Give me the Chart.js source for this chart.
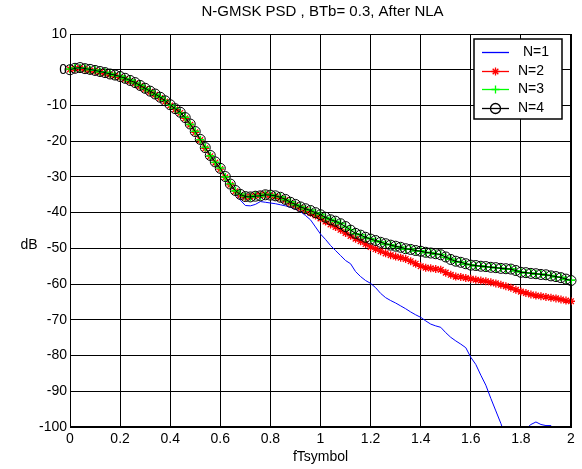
<!DOCTYPE html>
<html>
<head>
<meta charset="utf-8">
<script src="https://cdn.jsdelivr.net/npm/chart.js@4/dist/chart.umd.min.js"></script>
<style>
  html, body { margin: 0; padding: 0; background: #fff; }
  #wrap { width: 582px; height: 469px; }
</style>
</head>
<body>
<div id="wrap"><canvas id="psdChart" width="582" height="469"></canvas></div>
<script>
// normalised frequency f*Tsymbol
const freq = [
  0.00, 0.02, 0.04, 0.06, 0.08, 0.10, 0.12, 0.14, 0.16, 0.18,
  0.20, 0.22, 0.24, 0.26, 0.28, 0.30, 0.32, 0.34, 0.36, 0.38,
  0.40, 0.42, 0.44, 0.46, 0.48, 0.50, 0.52, 0.54, 0.56, 0.58,
  0.60, 0.62, 0.64, 0.66, 0.68, 0.70, 0.72, 0.74, 0.76, 0.78,
  0.80, 0.82, 0.84, 0.86, 0.88, 0.90, 0.92, 0.94, 0.96, 0.98,
  1.00, 1.02, 1.04, 1.06, 1.08, 1.10, 1.12, 1.14, 1.16, 1.18,
  1.20, 1.22, 1.24, 1.26, 1.28, 1.30, 1.32, 1.34, 1.36, 1.38,
  1.40, 1.42, 1.44, 1.46, 1.48, 1.50, 1.52, 1.54, 1.56, 1.58,
  1.60, 1.62, 1.64, 1.66, 1.68, 1.70, 1.72, 1.74, 1.76, 1.78,
  1.80, 1.82, 1.84, 1.86, 1.88, 1.90, 1.92, 1.94, 1.96, 1.98,
  2.00
];

// PSD in dB for each N
const psdN1 = [
  0, 0.4, 0.6, 0.3, 0.1, -0.2, -0.5, -0.8, -1.2, -1.5,
  -1.9, -2.4, -3.0, -3.6, -4.4, -5.2, -6.0, -6.8, -7.7, -8.7,
  -9.8, -10.9, -11.9, -13.4, -15.2, -17.3, -19.5, -21.8, -24.0, -25.8,
  -27.6, -29.9, -32.0, -34.4, -36.5, -38.0, -38.1, -37.7, -36.9, -37.1,
  -37.3, -37.5, -37.8, -38.1, -38.5, -39.0, -39.7, -40.8, -42.0, -44.0,
  -46.0, -47.5, -49.2, -50.6, -52.0, -53.4, -54.3, -56.5, -57.9, -59.0,
  -59.8, -61.0, -62.6, -63.8, -64.6, -65.3, -66.1, -66.9, -67.8, -68.6,
  -69.3, -70.3, -71.2, -71.7, -72.1, -73.6, -74.9, -75.9, -76.8, -77.8,
  -80.5, -82.5, -85.5, -88.3, -92.0, -95.5, -99.0, -103, -110, -110,
  -106, -100.5, -99.3, -98.6, -99.3, -99.6, -99.6, -101.5, -106, -110,
  -112
];
const psdN2 = [
  0.1, 0.3, 0.4, 0.1, -0.2, -0.4, -0.7, -1.0, -1.4, -1.7,
  -2.1, -2.6, -3.2, -3.8, -4.6, -5.4, -6.2, -7.0, -7.9, -8.9,
  -10.0, -11.1, -12.1, -13.6, -15.4, -17.5, -19.7, -22.0, -24.2, -26.0,
  -27.8, -30.1, -32.2, -34.0, -35.1, -35.7, -35.5, -35.2, -35.1, -34.9,
  -35.2, -35.5, -35.9, -36.5, -37.3, -38.0, -38.7, -39.3, -40.0, -40.8,
  -41.6, -42.5, -43.3, -44.0, -44.8, -45.7, -46.5, -47.3, -48.0, -48.8,
  -49.6, -50.2, -50.8, -51.4, -51.9, -52.3, -52.6, -53.0, -53.6, -54.3,
  -55.0, -55.4, -55.6, -55.8, -56.0, -56.8, -57.4, -57.9, -58.0, -58.3,
  -58.5, -58.8, -59.0, -59.2, -59.5, -59.8, -60.2, -60.6, -61.0, -61.6,
  -62.1, -62.5, -62.9, -63.2, -63.4, -63.6, -63.8, -64.0, -64.3, -64.6,
  -64.8
];
const psdN3 = [
  0.2, 0.5, 0.5, 0.4, 0.0, -0.1, -0.6, -0.7, -1.1, -1.6,
  -1.8, -2.5, -2.9, -3.7, -4.3, -5.3, -5.9, -6.9, -7.6, -8.6,
  -9.9, -10.8, -12.1, -13.3, -15.3, -17.2, -19.6, -21.7, -24.1, -25.9,
  -27.5, -30.0, -31.9, -33.9, -34.8, -35.4, -35.7, -35.2, -35.4, -34.9,
  -35.0, -35.4, -35.6, -36.4, -37.0, -37.8, -38.3, -39.0, -39.3, -40.1,
  -40.5, -41.4, -41.9, -42.5, -43.0, -44.0, -44.8, -45.9, -46.2, -47.0,
  -47.3, -47.9, -48.2, -48.8, -49.0, -49.5, -49.6, -50.2, -50.2, -50.7,
  -50.7, -51.2, -51.2, -51.6, -51.7, -52.5, -53.0, -53.7, -53.8, -54.4,
  -54.6, -54.9, -54.9, -55.2, -55.2, -55.5, -55.5, -55.8, -55.7, -56.3,
  -56.6, -56.9, -56.9, -57.2, -57.2, -57.5, -57.6, -58.0, -58.1, -58.7,
  -58.9
];
const psdN4 = [
  0, 0.4, 0.6, 0.3, 0.1, -0.2, -0.5, -0.8, -1.2, -1.5,
  -1.9, -2.4, -3.0, -3.6, -4.4, -5.2, -6.0, -6.8, -7.7, -8.7,
  -9.8, -10.9, -11.9, -13.4, -15.2, -17.3, -19.5, -21.8, -24.0, -25.8,
  -27.6, -29.9, -32.0, -33.8, -34.9, -35.5, -35.6, -35.4, -35.3, -35.0,
  -35.1, -35.3, -35.7, -36.3, -37.1, -37.7, -38.4, -38.9, -39.4, -40.0,
  -40.6, -41.3, -42.0, -42.4, -43.1, -43.9, -44.9, -45.8, -46.3, -46.9,
  -47.4, -47.8, -48.3, -48.7, -49.1, -49.4, -49.7, -50.1, -50.3, -50.6,
  -50.8, -51.1, -51.3, -51.5, -51.8, -52.4, -53.1, -53.6, -53.9, -54.3,
  -54.7, -54.8, -55.0, -55.1, -55.3, -55.4, -55.6, -55.7, -55.8, -56.2,
  -56.7, -56.8, -57.0, -57.1, -57.3, -57.4, -57.7, -57.9, -58.2, -58.6,
  -59.0
];

const seriesNames = ['N=1', 'N=2', 'N=3', 'N=4'];
const yTicks = [10, 0, -10, -20, -30, -40, -50, -60, -70, -80, -90, -100];
const xTicks = [0, 0.2, 0.4, 0.6, 0.8, 1, 1.2, 1.4, 1.6, 1.8, 2];

const FONT = "'Liberation Sans', Arial, sans-serif";
const NONE = 'rgba(0,0,0,0)';

function toPoints(values) {
  return freq.map((f, i) => ({ x: f, y: values[i] }));
}

// MATLAB-like decorations: box, title, axis labels, legend box
const matlabDecor = {
  id: 'matlabDecor',
  afterDraw(chart) {
    const ctx = chart.ctx;
    const a = chart.chartArea;
    ctx.save();
    ctx.strokeStyle = '#000';
    ctx.lineWidth = 1;
    ctx.strokeRect(a.left + 0.5, a.top + 0.5, a.right - a.left - 1, a.bottom - a.top - 1);

    ctx.fillStyle = '#000';
    ctx.textAlign = 'center';
    ctx.textBaseline = 'middle';
    ctx.font = '15px ' + FONT;
    ctx.fillText('N-GMSK PSD , BTb= 0.3, After NLA', (a.left + a.right) / 2 + 2, 12);
    ctx.font = '14px ' + FONT;
    ctx.fillText('fTsymbol', (a.left + a.right) / 2, 457);
    ctx.fillText('dB', 29, 245);

    // legend
    const lx = 474, ly = 39, lw = 88, lh = 80;
    ctx.fillStyle = '#fff';
    ctx.fillRect(lx, ly, lw, lh);
    ctx.lineWidth = 1.5;
    ctx.strokeStyle = '#000';
    ctx.strokeRect(lx, ly, lw, lh);

    const rows = [52.5, 71.5, 89.5, 108.5];
    chart.data.datasets.forEach((ds, i) => {
      const y = rows[i];
      ctx.strokeStyle = ds.borderColor;
      ctx.lineWidth = 1.3;
      ctx.beginPath();
      ctx.moveTo(482, y);
      ctx.lineTo(509, y);
      ctx.stroke();
      if (ds.pointRadius > 0) {
        ctx.fillStyle = NONE;
        ctx.strokeStyle = ds.borderColor;
        Chart.helpers.drawPoint(ctx, {
          pointStyle: ds.pointStyle,
          radius: ds.pointRadius,
          rotation: 0,
          borderWidth: ds.pointBorderWidth
        }, 495.5, y);
      }
      ctx.fillStyle = '#000';
      ctx.font = '14px ' + FONT;
      ctx.textAlign = 'left';
      ctx.fillText(ds.label, i === 0 ? 523 : 518, y);
    });
    ctx.restore();
  }
};

function lineSet(label, values, color, style, radius, markerWidth, order, clip) {
  return {
    label: label,
    data: toPoints(values),
    borderColor: color,
    backgroundColor: NONE,
    borderWidth: 1,
    pointStyle: style,
    pointRadius: radius,
    pointBorderWidth: markerWidth,
    pointBorderColor: color,
    pointBackgroundColor: NONE,
    pointHoverRadius: radius,
    clip: clip,
    order: order
  };
}

new Chart(document.getElementById('psdChart'), {
  type: 'line',
  data: {
    datasets: [
      lineSet(seriesNames[0], psdN1, '#0000ff', 'circle', 0, 1, 4, 0),
      lineSet(seriesNames[1], psdN2, '#ff0000', 'star', 4, 1.3, 3, false),
      lineSet(seriesNames[2], psdN3, '#00ff00', 'cross', 4, 1.6, 2, false),
      lineSet(seriesNames[3], psdN4, '#000000', 'circle', 5, 1, 1, false)
    ]
  },
  options: {
    responsive: false,
    animation: false,
    layout: { padding: { top: 34, right: 11, left: 0, bottom: 0 } },
    plugins: {
      legend: { display: false },
      tooltip: { enabled: false },
      title: { display: false }
    },
    elements: { line: { tension: 0 } },
    scales: {
      x: {
        type: 'linear',
        min: 0,
        max: 2,
        afterFit(scale) { scale.height = 42; },
        afterBuildTicks(scale) { scale.ticks = xTicks.map(v => ({ value: v })); },
        ticks: {
          color: '#000',
          font: { family: FONT, size: 14 },
          padding: 4,
          maxRotation: 0,
          autoSkip: false,
          callback: v => String(Number(v.toFixed(1)))
        },
        grid: { color: '#000', lineWidth: 1, drawTicks: false },
        border: { display: true, color: '#000', width: 1 }
      },
      y: {
        min: -100,
        max: 10,
        afterFit(scale) { scale.width = 70; },
        afterBuildTicks(scale) { scale.ticks = yTicks.map(v => ({ value: v })); },
        ticks: {
          color: '#000',
          font: { family: FONT, size: 14 },
          padding: 3,
          autoSkip: false
        },
        grid: { color: '#000', lineWidth: 1, drawTicks: false },
        border: { display: true, color: '#000', width: 1 }
      }
    }
  },
  plugins: [matlabDecor]
});
</script>
</body>
</html>
